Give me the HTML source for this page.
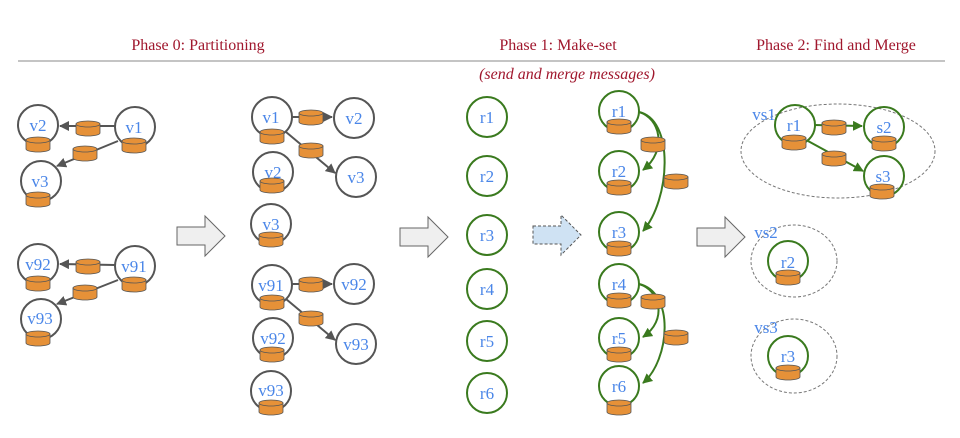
<!DOCTYPE html>
<html><head><meta charset="utf-8"><style>
html,body{margin:0;padding:0;background:#fff}
svg{display:block}
.t{font-family:"Liberation Serif",serif;fill:#a0172d;font-size:16px}
.n{font-family:"Liberation Serif",serif;fill:#4a86e8;font-size:17px;text-anchor:middle}
.g{fill:none;stroke:#555;stroke-width:2}
.gr{fill:none;stroke:#3a7a1e;stroke-width:2}
.e{stroke:#555;stroke-width:2;fill:none}
.eg{stroke:#3a7a1e;stroke-width:2;fill:none}
</style></head><body>
<svg width="960" height="438" viewBox="0 0 960 438" xmlns="http://www.w3.org/2000/svg">
<defs>
<g id="cyl">
<path d="M-12,-4 L-12,5 A12,3 0 0 0 12,5 L12,-4 Z" fill="#e69138" stroke="#555" stroke-width="0.8"/>
<ellipse cx="0" cy="-4" rx="12" ry="3" fill="#e69138" stroke="#555" stroke-width="0.8"/>
</g>
<marker id="ah" viewBox="0 0 10 10" refX="9" refY="5" markerWidth="5" markerHeight="5" orient="auto"><path d="M0,0 L10,5 L0,10 Z" fill="#555"/></marker>
<marker id="ahg" viewBox="0 0 10 10" refX="9" refY="5" markerWidth="5" markerHeight="5" orient="auto"><path d="M0,0 L10,5 L0,10 Z" fill="#3a7a1e"/></marker>
<path id="blk" d="M0,-9 L28,-9 L28,-20 L48,0 L28,20 L28,9 L0,9 Z"/>
</defs>

<text class="t" x="198" y="50" text-anchor="middle">Phase 0: Partitioning</text>
<text class="t" x="558" y="50" text-anchor="middle">Phase 1: Make-set</text>
<text class="t" x="836" y="50" text-anchor="middle">Phase 2: Find and Merge</text>
<line x1="18" y1="61" x2="945" y2="61" stroke="#888" stroke-width="1"/>
<text class="t" x="567" y="79" text-anchor="middle" font-style="italic">(send and merge messages)</text>

<!-- Column 1 -->
<line class="e" x1="115" y1="126" x2="60" y2="126" marker-end="url(#ah)"/>
<line class="e" x1="118" y1="141" x2="57" y2="166" marker-end="url(#ah)"/>
<circle class="g" cx="38" cy="125" r="20"/><text class="n" x="38" y="131">v2</text><use href="#cyl" x="38" y="144"/>
<circle class="g" cx="135" cy="127" r="20"/><text class="n" x="134" y="133">v1</text><use href="#cyl" x="134" y="145"/>
<circle class="g" cx="41" cy="181" r="20"/><text class="n" x="40" y="187">v3</text><use href="#cyl" x="38" y="199"/>
<use href="#cyl" x="88" y="128"/><use href="#cyl" x="85" y="153"/>

<line class="e" x1="115" y1="265" x2="60" y2="264" marker-end="url(#ah)"/>
<line class="e" x1="118" y1="280" x2="57" y2="304" marker-end="url(#ah)"/>
<circle class="g" cx="38" cy="264" r="20"/><text class="n" x="38" y="270">v92</text><use href="#cyl" x="38" y="283"/>
<circle class="g" cx="135" cy="266" r="20"/><text class="n" x="134" y="272">v91</text><use href="#cyl" x="134" y="284"/>
<circle class="g" cx="41" cy="319" r="20"/><text class="n" x="40" y="324">v93</text><use href="#cyl" x="38" y="338"/>
<use href="#cyl" x="88" y="266"/><use href="#cyl" x="85" y="292"/>

<use href="#blk" x="177" y="236" fill="#efefef" stroke="#666" stroke-width="1"/>

<!-- Column 2 -->
<line class="e" x1="291" y1="117" x2="332" y2="117" marker-end="url(#ah)"/>
<line class="e" x1="286" y1="132" x2="335" y2="173" marker-end="url(#ah)"/>
<circle class="g" cx="272" cy="117" r="20"/><text class="n" x="271" y="123">v1</text><use href="#cyl" x="272" y="136"/>
<circle class="g" cx="354" cy="118" r="20"/><text class="n" x="354" y="124">v2</text>
<circle class="g" cx="356" cy="177" r="20"/><text class="n" x="356" y="183">v3</text>
<use href="#cyl" x="311" y="117"/><use href="#cyl" x="311" y="150"/>
<circle class="g" cx="273" cy="172" r="20"/><text class="n" x="273" y="178">v2</text><use href="#cyl" x="272" y="185"/>
<circle class="g" cx="271" cy="224" r="20"/><text class="n" x="271" y="230">v3</text><use href="#cyl" x="271" y="239"/>

<line class="e" x1="291" y1="284" x2="332" y2="284" marker-end="url(#ah)"/>
<line class="e" x1="286" y1="299" x2="335" y2="340" marker-end="url(#ah)"/>
<circle class="g" cx="272" cy="285" r="20"/><text class="n" x="271" y="291">v91</text><use href="#cyl" x="272" y="302"/>
<circle class="g" cx="354" cy="284" r="20"/><text class="n" x="354" y="290">v92</text>
<circle class="g" cx="356" cy="344" r="20"/><text class="n" x="356" y="350">v93</text>
<use href="#cyl" x="311" y="284"/><use href="#cyl" x="311" y="318"/>
<circle class="g" cx="273" cy="338" r="20"/><text class="n" x="273" y="344">v92</text><use href="#cyl" x="272" y="354"/>
<circle class="g" cx="271" cy="391" r="20"/><text class="n" x="271" y="396">v93</text><use href="#cyl" x="271" y="407"/>

<use href="#blk" x="400" y="237" fill="#efefef" stroke="#666" stroke-width="1"/>

<!-- Column 3 -->
<g>
<circle class="gr" cx="487" cy="117" r="20"/><text class="n" x="487" y="123">r1</text>
<circle class="gr" cx="487" cy="176" r="20"/><text class="n" x="487" y="182">r2</text>
<circle class="gr" cx="487" cy="235" r="20"/><text class="n" x="487" y="241">r3</text>
<circle class="gr" cx="487" cy="289" r="20"/><text class="n" x="487" y="295">r4</text>
<circle class="gr" cx="487" cy="341" r="20"/><text class="n" x="487" y="347">r5</text>
<circle class="gr" cx="487" cy="393" r="20"/><text class="n" x="487" y="399">r6</text>
</g>

<use href="#blk" x="533" y="235" fill="#cfe2f3" stroke="#555" stroke-width="1" stroke-dasharray="3,2"/>

<!-- Column 4 -->
<path class="eg" d="M639,112 C660,118 668,150 643,170" marker-end="url(#ahg)"/>
<path class="eg" d="M639,112 C675,120 670,200 643,231" marker-end="url(#ahg)"/>
<path class="eg" d="M639,284 C660,290 668,320 643,337" marker-end="url(#ahg)"/>
<path class="eg" d="M639,284 C675,292 670,360 643,383" marker-end="url(#ahg)"/>
<circle class="gr" cx="619" cy="111" r="20"/><text class="n" x="619" y="117">r1</text><use href="#cyl" x="619" y="126"/>
<circle class="gr" cx="619" cy="171" r="20"/><text class="n" x="619" y="177">r2</text><use href="#cyl" x="619" y="187"/>
<circle class="gr" cx="619" cy="232" r="20"/><text class="n" x="619" y="238">r3</text><use href="#cyl" x="619" y="248"/>
<circle class="gr" cx="619" cy="284" r="20"/><text class="n" x="619" y="290">r4</text><use href="#cyl" x="619" y="300"/>
<circle class="gr" cx="619" cy="338" r="20"/><text class="n" x="619" y="344">r5</text><use href="#cyl" x="619" y="354"/>
<circle class="gr" cx="619" cy="386" r="20"/><text class="n" x="619" y="392">r6</text><use href="#cyl" x="619" y="407"/>
<use href="#cyl" x="653" y="144"/><use href="#cyl" x="676" y="181"/>
<use href="#cyl" x="653" y="301"/><use href="#cyl" x="676" y="337"/>

<use href="#blk" x="697" y="237" fill="#efefef" stroke="#666" stroke-width="1"/>

<!-- Column 5 -->
<ellipse cx="838" cy="151" rx="97" ry="47" fill="none" stroke="#777" stroke-width="1" stroke-dasharray="3,2"/>
<text class="n" x="764" y="120" font-size="15">vs1</text>
<line class="eg" x1="814" y1="125" x2="862" y2="126" marker-end="url(#ahg)"/>
<line class="eg" x1="808" y1="141" x2="863" y2="171" marker-end="url(#ahg)"/>
<circle class="gr" cx="795" cy="125" r="20"/><text class="n" x="794" y="131">r1</text><use href="#cyl" x="794" y="142"/>
<circle class="gr" cx="884" cy="127" r="20"/><text class="n" x="884" y="133">s2</text><use href="#cyl" x="884" y="143"/>
<circle class="gr" cx="884" cy="176" r="20"/><text class="n" x="883" y="182">s3</text><use href="#cyl" x="882" y="191"/>
<use href="#cyl" x="834" y="127"/><use href="#cyl" x="834" y="158"/>

<ellipse cx="794" cy="261" rx="43" ry="36" fill="none" stroke="#777" stroke-width="1" stroke-dasharray="3,2"/>
<text class="n" x="766" y="238" font-size="15">vs2</text>
<circle class="gr" cx="788" cy="261" r="20"/><text class="n" x="788" y="268">r2</text><use href="#cyl" x="788" y="277"/>

<ellipse cx="794" cy="356" rx="43" ry="37" fill="none" stroke="#777" stroke-width="1" stroke-dasharray="3,2"/>
<text class="n" x="766" y="333" font-size="15">vs3</text>
<circle class="gr" cx="788" cy="356" r="20"/><text class="n" x="788" y="362">r3</text><use href="#cyl" x="788" y="372"/>
</svg>
</body></html>
